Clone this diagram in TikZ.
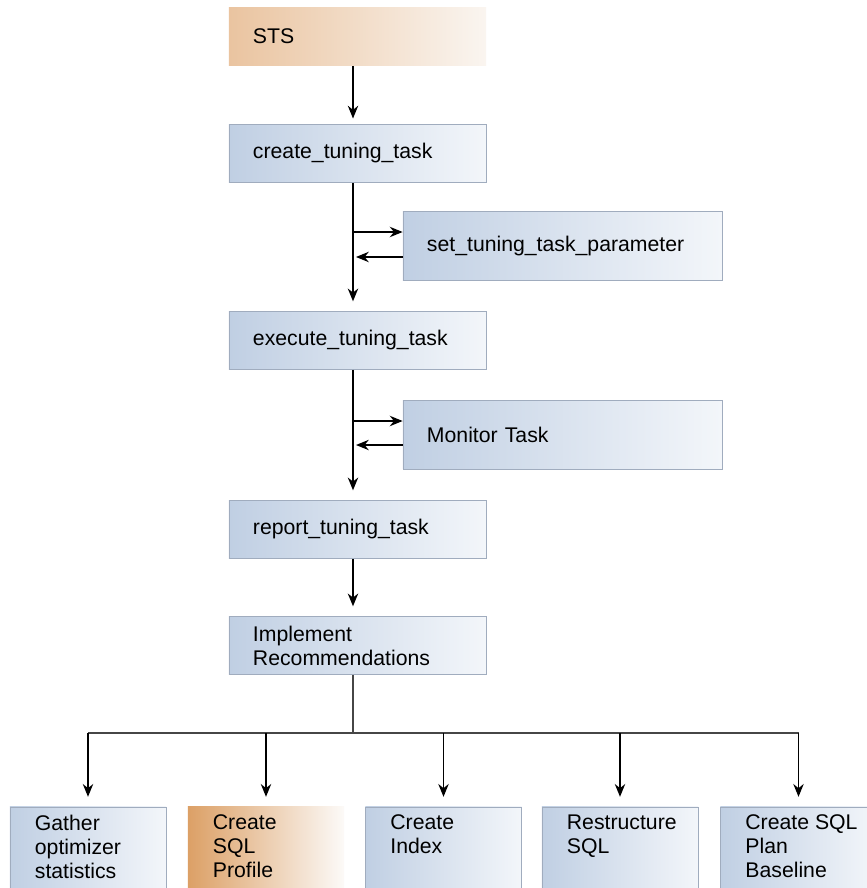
\documentclass[tikz,border=0pt]{standalone}
\usepackage{fontspec}
\setmainfont{Liberation Sans}
\usetikzlibrary{arrows.meta,positioning,calc}
\definecolor{boxBlueL}{RGB}{192,207,227}
\definecolor{boxBlueR}{RGB}{243,246,250}
\definecolor{boxEdge}{RGB}{160,172,190}
\definecolor{stsL}{RGB}{234,196,160}
\definecolor{stsR}{RGB}{250,245,240}
\definecolor{profL}{RGB}{220,160,102}
\definecolor{profR}{RGB}{252,250,248}
\definecolor{barCol}{RGB}{70,70,70}
\tikzset{
  step box/.style={draw=boxEdge,line width=0.5pt,align=left,inner xsep=0.6cm,
                   inner ysep=0pt,anchor=center,
                   font=\fontsize{15.1}{17.1}\selectfont,
                   left color=boxBlueL,right color=boxBlueR},
  topbox/.style={step box,minimum width=6.425cm,text width=5.225cm,minimum height=1.45cm},
  sidebox/.style={step box,minimum width=7.975cm,text width=6.775cm,minimum height=1.72cm},
  outbox/.style={step box,minimum width=3.9cm,minimum height=2.2cm},
  orange/.style={draw=none,left color=stsL,right color=stsR},
  hot/.style={draw=none,left color=profL,right color=profR},
  btxt/.style={anchor=north west,inner sep=0pt,align=left,
               font=\fontsize{15.1}{17.1}\selectfont},
  flow/.style={-{Stealth[length=3.2mm,width=2.6mm]},line width=1pt},
}
\begin{document}
\begin{tikzpicture}[x=0.025cm,y=-0.025cm]
  \clip (0,0) rectangle (867,888);
  \fill[white] (0,0) rectangle (867,888);
  % main column
  \node[topbox,orange] (sts) at (357.5,36.5) {STS};
  \node[topbox] (ctt) at (357.5,153.5) {create\_tuning\_task};
  \node[sidebox] (set) at (562.5,246) {set\_tuning\_task\_parameter};
  \node[topbox] (exe) at (357.5,340.5) {execute\_tuning\_task};
  \node[sidebox] (mon) at (562.5,434.5) {Monitor Task};
  \node[topbox] (rep) at (357.5,529.5) {report\_tuning\_task};
  \node[topbox] (imp) at (357.5,645.5) {Implement\\Recommendations};
  % trunk and loop points
  \coordinate (tx) at (353,0);
  \coordinate (s1) at (353,232);
  \coordinate (s2) at (356,257);
  \coordinate (m1) at (353,421);
  \coordinate (m2) at (356,445);
  \coordinate (bar) at (353,733);
  \draw[flow,shorten >=4] (sts.south -| tx) -- (ctt.north -| tx);
  \draw[flow,shorten >=7] (ctt.south -| tx) -- (exe.north -| tx);
  \draw[flow] (s1) -- (s1 -| set.west);
  \draw[flow] (s2 -| set.west) -- (s2);
  \draw[flow,shorten >=7] (exe.south -| tx) -- (rep.north -| tx);
  \draw[flow] (m1) -- (m1 -| mon.west);
  \draw[flow] (m2 -| mon.west) -- (m2);
  \draw[flow,shorten >=7] (rep.south -| tx) -- (imp.north -| tx);
  % recommendations
  \node[outbox] (gat) at (88,851) {};
  \node[outbox,hot] (prof) at (266,851) {};
  \node[outbox] (idx) at (443.5,851) {};
  \node[outbox] (rst) at (620,851) {};
  \node[outbox] (spb) at (798.5,851) {};
  \node[btxt] at ($(gat.north west)+(25,8)$) {Gather\\optimizer\\statistics};
  \node[btxt] at ($(prof.north west)+(25,8)$) {Create\\SQL\\Profile};
  \node[btxt] at ($(idx.north west)+(25,8)$) {Create\\Index};
  \node[btxt] at ($(rst.north west)+(25,8)$) {Restructure\\SQL};
  \node[btxt] at ($(spb.north west)+(25,8)$) {Create SQL\\Plan\\Baseline};
  \draw[line width=1pt,barCol] (imp.south -| tx) -- (bar);
  \draw[line width=1pt,barCol] (bar -| gat.north) -- (bar -| spb.north);
  \foreach \b in {gat,prof,idx,rst,spb}
    \draw[flow,shorten >=7] (bar -| \b.north) -- (\b.north);
\end{tikzpicture}
\end{document}
